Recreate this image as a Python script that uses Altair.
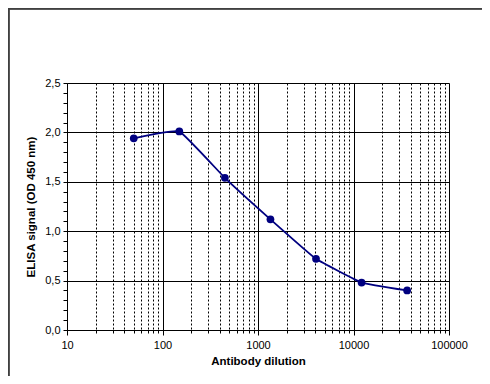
import altair as alt
import pandas as pd

dilution = [50, 150, 450, 1350, 4050, 12150, 36450]
signal = [1.94, 2.01, 1.54, 1.12, 0.72, 0.48, 0.40]

x_ticks = [m * 10 ** e for e in range(1, 5) for m in range(1, 10)] + [100000]
y_ticks = [round(i * 0.1, 1) for i in range(0, 26)]

df = pd.DataFrame({"dilution": dilution, "signal": signal})

FONT = "Liberation Sans"
major_x = "abs(log(datum.value)/LN10 - round(log(datum.value)/LN10)) < 1e-6"
major_y = "round(datum.value*10) % 5 === 0"

x_enc = alt.X(
    "dilution:Q",
    scale=alt.Scale(type="log", domain=[10, 100000], nice=False),
    axis=alt.Axis(
        values=x_ticks,
        tickCount=60,
        title="Antibody dilution",
        labelExpr=f"({major_x}) ? format(datum.value, 'd') : ''",
        labelOverlap=False,
        grid=True,
        gridColor="#000000",
        gridWidth=1,
        gridDash={"condition": {"test": major_x, "value": []}, "value": [2, 2]},
        tickSize={"condition": {"test": major_x, "value": 5}, "value": 3},
        tickColor="#000000",
        domainColor="#000000",
        labelFont=FONT,
        labelFontSize=11,
        labelColor="#000000",
        labelPadding=4,
        labelFlush=False,
        titleFont=FONT,
        titleFontSize=11.5,
        titleFontWeight="bold",
        titleColor="#000000",
        titlePadding=5,
    ),
)

y_enc = alt.Y(
    "signal:Q",
    scale=alt.Scale(domain=[0, 2.5], nice=False),
    axis=alt.Axis(
        values=y_ticks,
        tickCount=60,
        title="ELISA signal (OD 450 nm)",
        labelExpr=f"({major_y}) ? replace(format(datum.value, '.1f'), '.', ',') : ''",
        labelOverlap=False,
        grid=True,
        gridColor="#000000",
        gridWidth=1,
        gridOpacity={"condition": {"test": major_y, "value": 1}, "value": 0},
        tickSize=4,
        tickColor="#000000",
        domainColor="#000000",
        labelFont=FONT,
        labelFontSize=11,
        labelColor="#000000",
        labelPadding=3,
        titleFont=FONT,
        titleFontSize=11.5,
        titleFontWeight="bold",
        titleColor="#000000",
        titlePadding=8,
    ),
)

line = alt.Chart(df).mark_line(
    color="#000080", strokeWidth=1.8, interpolate="cardinal", tension=0.7
).encode(x=x_enc, y=y_enc)

pts = alt.Chart(df).mark_point(
    filled=True, color="#000080", size=60, opacity=1
).encode(x="dilution:Q", y="signal:Q")

frame = alt.Chart(df).mark_rect(
    fill=None, stroke="#404040", strokeWidth=1.5
).encode(
    x=alt.value(-58.5), x2=alt.value(416.5),
    y=alt.value(-74.5), y2=alt.value(294.5)
)

chart = alt.layer(frame, line, pts).properties(
    width=382,
    height=247,
    autosize=alt.AutoSizeParams(type="none"),
    padding={"left": 59, "top": 75, "right": 33, "bottom": 46},
).configure_view(stroke=None).configure(background="#ffffff")

chart.save("out.html", embed_options={"renderer": "svg", "actions": False})
